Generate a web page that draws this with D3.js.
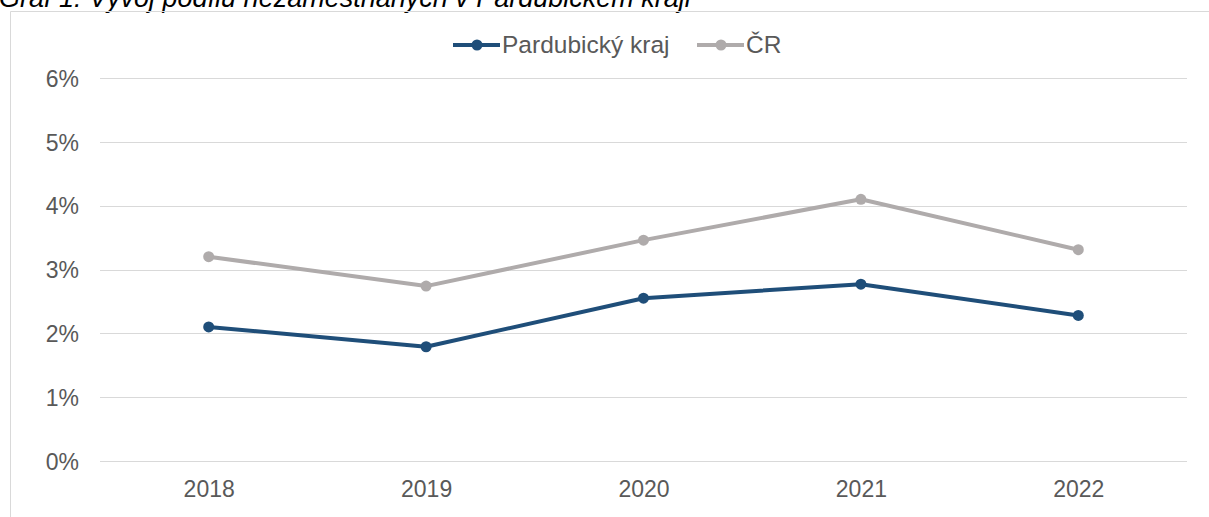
<!DOCTYPE html>
<html>
<head>
<meta charset="utf-8">
<script src="https://cdn.jsdelivr.net/npm/d3@7/dist/d3.min.js"></script>
<style>
  html, body { margin: 0; padding: 0; background: #fff; }
  svg { display: block; font-family: "Liberation Sans", Arial, sans-serif; }
</style>
</head>
<body>
<svg id="chart" width="1209" height="517"></svg>
<script>
const title = "Graf 1: Vývoj podílu nezaměstnaných v Pardubickém kraji";
const years = ["2018", "2019", "2020", "2021", "2022"];
const pardubice = [2.10, 1.79, 2.55, 2.77, 2.28];
const cr = [3.20, 2.74, 3.46, 4.10, 3.31];
const yTicks = [0, 1, 2, 3, 4, 5, 6];
const seriesNames = ["Pardubický kraj", "ČR"];

(function () {
const colors = { pardubice: "#1F4E79", cr: "#AFABAB" };
const textColor = "#595959";

const svg = d3.select("#chart");

// Title (clipped at top like the reference)
svg.append("text")
  .attr("x", -1).attr("y", 7)
  .attr("font-size", 27).attr("font-style", "italic")
  .attr("fill", "#000")
  .text(title);

// Chart frame
svg.append("path")
  .attr("d", "M10.5,517 L10.5,11.5 L1209,11.5")
  .attr("fill", "none").attr("stroke", "#d9d9d9").attr("stroke-width", 1);

const pLeft = 100, pRight = 1187, pTop = 78, pBottom = 461;

const x = d3.scalePoint().domain(years).range([pLeft, pRight]).padding(0.5);
const y = d3.scaleLinear().domain([0, 6]).range([pBottom, pTop]);

// Gridlines
svg.append("g").selectAll("line").data(yTicks).join("line")
  .attr("x1", pLeft).attr("x2", pRight)
  .attr("y1", d => Math.round(y(d)) + 0.5).attr("y2", d => Math.round(y(d)) + 0.5)
  .attr("stroke", "#d9d9d9").attr("stroke-width", 1);

// Y axis labels
const yAxis = d3.axisLeft(y).tickValues(yTicks).tickFormat(d => d + "%").tickSize(0).tickPadding(0);
const gy = svg.append("g").attr("transform", `translate(79,0)`).call(yAxis);
gy.select(".domain").remove();
gy.selectAll("text").attr("font-size", 23).attr("fill", textColor)
  .attr("font-family", "Liberation Sans, Arial, sans-serif").attr("dy", "0.36em");

// X axis labels
const xAxis = d3.axisBottom(x).tickSize(0).tickPadding(0);
const gx = svg.append("g").attr("transform", `translate(0,${pBottom})`).call(xAxis);
gx.select(".domain").remove();
gx.selectAll("text").attr("font-size", 23).attr("fill", textColor)
  .attr("font-family", "Liberation Sans, Arial, sans-serif").attr("dy", "1.55em");

const line = d3.line().x((d, i) => x(years[i])).y(d => y(d));

function drawSeries(vals, color) {
  svg.append("path").datum(vals)
    .attr("d", line).attr("fill", "none")
    .attr("stroke", color).attr("stroke-width", 4)
    .attr("stroke-linejoin", "round");
  svg.append("g").selectAll("circle").data(vals).join("circle")
    .attr("cx", (d, i) => x(years[i])).attr("cy", d => y(d))
    .attr("r", 5.5).attr("fill", color);
}
drawSeries(cr, colors.cr);
drawSeries(pardubice, colors.pardubice);

// Legend
const legendItems = [
  { name: seriesNames[0], color: colors.pardubice, x0: 453 },
  { name: seriesNames[1], color: colors.cr, x0: 697 }
];
const lg = svg.append("g");
legendItems.forEach(it => {
  lg.append("line").attr("x1", it.x0).attr("x2", it.x0 + 47)
    .attr("y1", 45).attr("y2", 45)
    .attr("stroke", it.color).attr("stroke-width", 4);
  lg.append("circle").attr("cx", it.x0 + 24).attr("cy", 45).attr("r", 5.5).attr("fill", it.color);
  lg.append("text").attr("x", it.x0 + 49).attr("y", 53)
    .attr("font-size", 24.5).attr("fill", textColor).text(it.name);
});
})();
</script>
</body>
</html>
